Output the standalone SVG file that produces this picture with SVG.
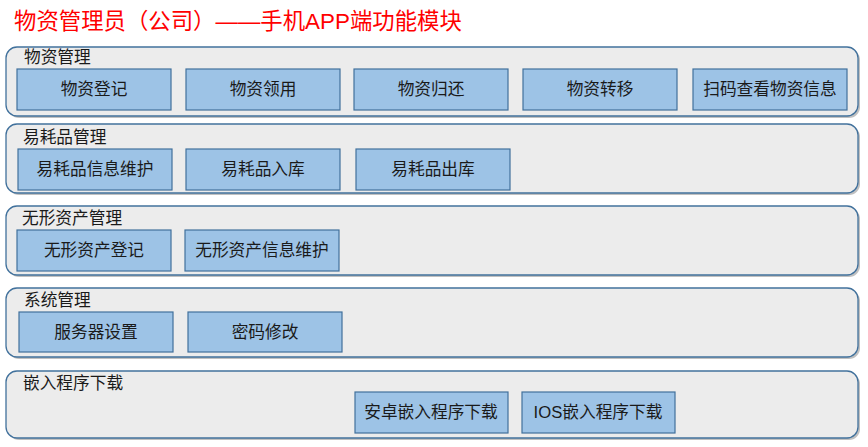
<svg xmlns="http://www.w3.org/2000/svg" width="868" height="447" viewBox="0 0 868 447">
<defs>
<style>
.shadow{fill:#8c8c8c;opacity:0.55}
.cont{fill:#ececec;stroke:#41719c;stroke-width:1.3}
.box{fill:#9dc3e6;stroke:#41719c;stroke-width:1.2}
.ct{font-family:"Liberation Sans","Noto Sans CJK SC",sans-serif;font-size:16.7px;fill:#1a1a1a}
.bt{font-family:"Liberation Sans","Noto Sans CJK SC",sans-serif;font-size:16.7px;fill:#1a1a1a;text-anchor:middle}
.title{font-family:"Liberation Sans","Noto Sans CJK SC",sans-serif;font-size:22.4px;fill:#ff0000}
</style>
</defs>
<rect width="868" height="447" fill="#ffffff"/>
<text class="title" x="14" y="29">物资管理员（公司）——手机APP端功能模块</text>

<g id="group-wuzi">
<rect class="shadow" x="8" y="49" width="852" height="69" rx="11"/>
<rect class="cont" x="6" y="47" width="852" height="69" rx="11"/>
<text class="ct" x="24" y="63">物资管理</text>
</g>
<g id="wz-dengji"><rect class="box" x="17" y="69" width="154" height="41"/><text class="bt" x="94" y="95">物资登记</text></g>
<g id="wz-lingyong"><rect class="box" x="186" y="69" width="154" height="41"/><text class="bt" x="263" y="95">物资领用</text></g>
<g id="wz-guihuan"><rect class="box" x="354" y="69" width="154" height="41"/><text class="bt" x="431" y="95">物资归还</text></g>
<g id="wz-zhuanyi"><rect class="box" x="523" y="69" width="154" height="41"/><text class="bt" x="600" y="95">物资转移</text></g>
<g id="wz-saoma"><rect class="box" x="693" y="69" width="154" height="41"/><text class="bt" x="770" y="95">扫码查看物资信息</text></g>

<g id="group-yihao">
<rect class="shadow" x="8" y="126" width="852" height="69" rx="11"/>
<rect class="cont" x="6" y="124" width="852" height="69" rx="11"/>
<text class="ct" x="23" y="143">易耗品管理</text>
</g>
<g id="yh-weihu"><rect class="box" x="18" y="149" width="154" height="41"/><text class="bt" x="95" y="175">易耗品信息维护</text></g>
<g id="yh-ruku"><rect class="box" x="186" y="149" width="154" height="41"/><text class="bt" x="263" y="175">易耗品入库</text></g>
<g id="yh-chuku"><rect class="box" x="356" y="149" width="154" height="41"/><text class="bt" x="433" y="175">易耗品出库</text></g>

<g id="group-wuxing">
<rect class="shadow" x="8" y="208" width="852" height="69" rx="11"/>
<rect class="cont" x="6" y="206" width="852" height="69" rx="11"/>
<text class="ct" x="22" y="224">无形资产管理</text>
</g>
<g id="wx-dengji"><rect class="box" x="17" y="230" width="154" height="41"/><text class="bt" x="94" y="256">无形资产登记</text></g>
<g id="wx-weihu"><rect class="box" x="185" y="230" width="154" height="41"/><text class="bt" x="262" y="256">无形资产信息维护</text></g>

<g id="group-xitong">
<rect class="shadow" x="8" y="290" width="852" height="69" rx="11"/>
<rect class="cont" x="6" y="288" width="852" height="69" rx="11"/>
<text class="ct" x="24" y="306">系统管理</text>
</g>
<g id="xt-fuwuqi"><rect class="box" x="19" y="312" width="154" height="40"/><text class="bt" x="96" y="338">服务器设置</text></g>
<g id="xt-mima"><rect class="box" x="188" y="312" width="154" height="40"/><text class="bt" x="265" y="338">密码修改</text></g>

<g id="group-xiazai">
<rect class="shadow" x="8" y="373" width="852" height="67" rx="11"/>
<rect class="cont" x="6" y="371" width="852" height="67" rx="11"/>
<text class="ct" x="23" y="389">嵌入程序下载</text>
</g>
<g id="xz-android"><rect class="box" x="355" y="392" width="153" height="41"/><text class="bt" x="431" y="418">安卓嵌入程序下载</text></g>
<g id="xz-ios"><rect class="box" x="522" y="392" width="153" height="41"/><text class="bt" x="598" y="418">IOS嵌入程序下载</text></g>
<g id="connectors"></g>
</svg>
